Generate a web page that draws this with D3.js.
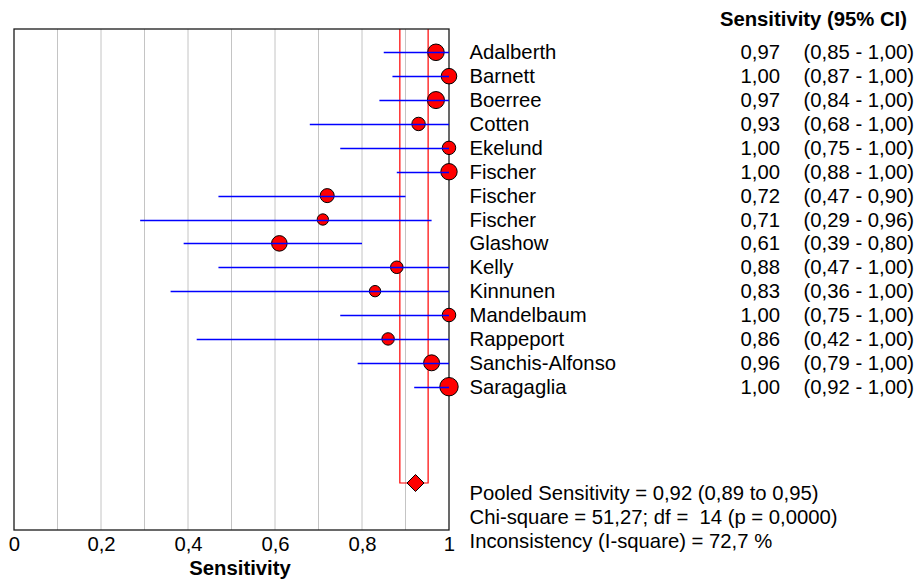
<!DOCTYPE html>
<html>
<head>
<meta charset="utf-8">
<script src="https://cdn.jsdelivr.net/npm/d3@7"></script>
<style>
    body { margin: 0; background: #fff; }
    svg { display: block; font-family: "Liberation Sans", Arial, sans-serif; }
    text { white-space: pre; }
</style>
</head>
<body>
<div id="forest"></div>
<script>
// study data
const studies = ["Adalberth", "Barnett", "Boerree", "Cotten", "Ekelund", "Fischer", "Fischer", "Fischer",
    "Glashow", "Kelly", "Kinnunen", "Mandelbaum", "Rappeport", "Sanchis-Alfonso", "Saragaglia"];
const sensitivity = [0.97, 1.00, 0.97, 0.93, 1.00, 1.00, 0.72, 0.71, 0.61, 0.88, 0.83, 1.00, 0.86, 0.96, 1.00];
const ciLow = [0.85, 0.87, 0.84, 0.68, 0.75, 0.88, 0.47, 0.29, 0.39, 0.47, 0.36, 0.75, 0.42, 0.79, 0.92];
const ciHigh = [1.00, 1.00, 1.00, 1.00, 1.00, 1.00, 0.90, 0.96, 0.80, 1.00, 1.00, 1.00, 1.00, 1.00, 1.00];
// relative study weights (%)
const weights = [8.5, 7.5, 9.0, 5.6, 5.6, 8.3, 6.1, 4.0, 7.5, 4.9, 4.0, 5.7, 4.8, 7.9, 10.5];

const pooled = {est: 0.923, lo: 0.887, hi: 0.952};
const chiSquare = 51.27, df = 14, pValue = 0.0000, iSquare = 72.7;
const xTicks = [0, 0.2, 0.4, 0.6, 0.8, 1];
const gridTicks = [0.1, 0.2, 0.3, 0.4, 0.5, 0.6, 0.7, 0.8, 0.9];

const width = 920, height = 583;
const plot = {left: 14, right: 449, top: 29, bottom: 530};
const fs = 20.3;

const locale = d3.formatLocale({decimal: ",", thousands: ".", grouping: [3], currency: ["", ""]});
const f2 = locale.format(".2f");

let svg = d3.select("#forest").append("svg")
    .attr("width", width)
    .attr("height", height);

svg.append("rect").attr("width", width).attr("height", height).attr("fill", "#fff");

let xScale = d3.scaleLinear().domain([0, 1]).range([plot.left, plot.right]);
let yScale = d3.scalePoint().domain(d3.range(studies.length)).range([52.3, 386.7]);
let rScale = d3.scaleSqrt().domain([0, d3.max(weights)]).range([0, 9.2]);
let pooledY = 483;

// grid
svg.append("g").selectAll("line")
    .data(gridTicks).enter()
    .append("line")
    .attr("x1", d => xScale(d)).attr("x2", d => xScale(d))
    .attr("y1", plot.top).attr("y2", plot.bottom)
    .attr("stroke", "#c4c4c4")
    .attr("stroke-width", 1);

// pooled CI band outline
svg.append("path")
    .attr("d", "M" + xScale(pooled.lo) + "," + plot.top +
        "V" + pooledY + "H" + xScale(pooled.hi) + "V" + plot.top)
    .attr("fill", "none")
    .attr("stroke", "#ff0000")
    .attr("stroke-width", 1.2);

// frame
svg.append("rect")
    .attr("x", plot.left).attr("y", plot.top)
    .attr("width", plot.right - plot.left).attr("height", plot.bottom - plot.top)
    .attr("fill", "none")
    .attr("stroke", "#1a1a1a")
    .attr("stroke-width", 1.3);

let rows = studies.map((s, i) => ({name: s, est: sensitivity[i], lo: ciLow[i], hi: ciHigh[i], w: weights[i], i: i}));

// study points, CI lines drawn on top
svg.append("g").selectAll("circle")
    .data(rows).enter()
    .append("circle")
    .attr("cx", d => xScale(d.est))
    .attr("cy", d => yScale(d.i))
    .attr("r", d => rScale(d.w))
    .attr("fill", "#ff0000")
    .attr("stroke", "#000")
    .attr("stroke-width", 1);

svg.append("g").selectAll("line")
    .data(rows).enter()
    .append("line")
    .attr("x1", d => xScale(d.lo)).attr("x2", d => xScale(d.hi))
    .attr("y1", d => Math.round(yScale(d.i)) + 0.5)
    .attr("y2", d => Math.round(yScale(d.i)) + 0.5)
    .attr("stroke", "#0000ff")
    .attr("stroke-width", 1.3);

// pooled diamond
let dsz = 8.5;
svg.append("path")
    .attr("d", d3.line()([
        [xScale(pooled.est) - dsz, pooledY], [xScale(pooled.est), pooledY - dsz],
        [xScale(pooled.est) + dsz, pooledY], [xScale(pooled.est), pooledY + dsz]]) + "Z")
    .attr("fill", "#ff0000")
    .attr("stroke", "#000")
    .attr("stroke-width", 1);

// x axis labels
let xAxis = d3.axisBottom(xScale)
    .tickValues(xTicks)
    .tickFormat(locale.format("~g"))
    .tickSize(0)
    .tickPadding(7);
let axisG = svg.append("g")
    .attr("transform", "translate(0," + plot.bottom + ")")
    .call(xAxis);
axisG.select(".domain").remove();
axisG.selectAll("text")
    .attr("font-size", fs)
    .attr("font-family", "Liberation Sans, Arial, sans-serif")
    .attr("fill", "#000");

svg.append("text")
    .attr("x", 240)
    .attr("y", 575)
    .attr("text-anchor", "middle")
    .attr("font-size", fs)
    .attr("font-weight", "bold")
    .text("Sensitivity");

// right-hand table
svg.append("text")
    .attr("x", 907)
    .attr("y", 26)
    .attr("text-anchor", "end")
    .attr("font-size", fs)
    .attr("font-weight", "bold")
    .text("Sensitivity (95% CI)");

let labels = svg.append("g").attr("font-size", fs).attr("fill", "#000");
labels.selectAll(".name")
    .data(rows).enter()
    .append("text")
    .attr("class", "name")
    .attr("x", 469.5)
    .attr("y", d => yScale(d.i) + 7)
    .text(d => d.name);
labels.selectAll(".est")
    .data(rows).enter()
    .append("text")
    .attr("class", "est")
    .attr("x", 780)
    .attr("y", d => yScale(d.i) + 7)
    .attr("text-anchor", "end")
    .text(d => f2(d.est));
labels.selectAll(".ci")
    .data(rows).enter()
    .append("text")
    .attr("class", "ci")
    .attr("x", 914)
    .attr("y", d => yScale(d.i) + 7)
    .attr("text-anchor", "end")
    .text(d => "(" + f2(d.lo) + " - " + f2(d.hi) + ")");

// summary statistics
let summary = [
    "Pooled Sensitivity = " + f2(pooled.est) + " (" + f2(pooled.lo) + " to " + f2(pooled.hi) + ")",
    "Chi-square = " + f2(chiSquare) + "; df =  " + df + " (p = " + locale.format(".4f")(pValue) + ")",
    "Inconsistency (I-square) = " + locale.format(".1f")(iSquare) + " %"
];
labels.selectAll(".summary")
    .data(summary).enter()
    .append("text")
    .attr("class", "summary")
    .attr("x", 469.5)
    .attr("y", (d, i) => 500 + i * 24.2)
    .text(d => d);
</script>
</body>
</html>
